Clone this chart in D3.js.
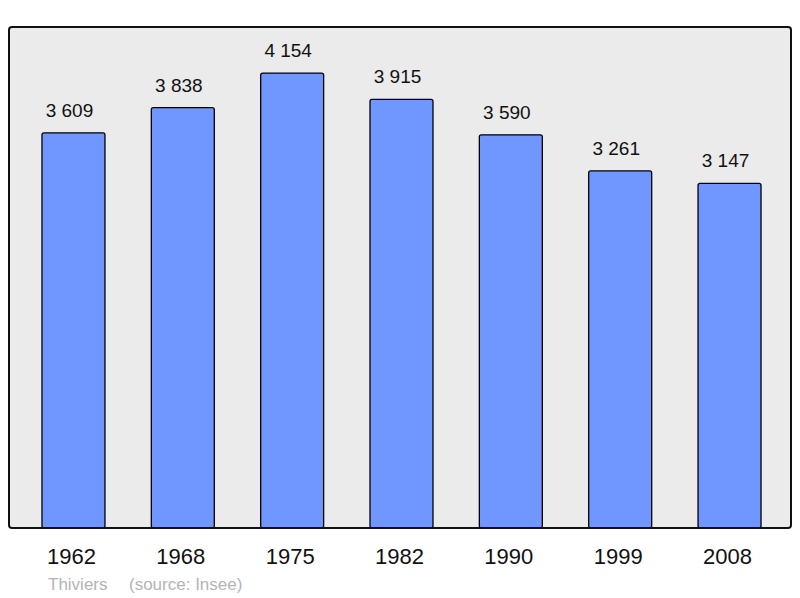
<!DOCTYPE html>
<html><head><meta charset="utf-8">
<script src="https://cdn.jsdelivr.net/npm/d3@7"></script>
<style>body{margin:0;background:#fff}svg{display:block}</style>
</head><body>
<script>
const years = ["1962","1968","1975","1982","1990","1999","2008"];
const population = [3609,3838,4154,3915,3590,3261,3147];
const valueLabels = ["3 609","3 838","4 154","3 915","3 590","3 261","3 147"];
const commune = "Thiviers";
const sourceText = "(source: Insee)";

const W = 800, H = 598;
const svg = d3.select("body").append("svg").attr("width", W).attr("height", H);
const frame = {x0: 9, y0: 27, x1: 791, y1: 528};

svg.append("rect").attr("x", frame.x0).attr("y", frame.y0)
  .attr("width", frame.x1 - frame.x0).attr("height", frame.y1 - frame.y0)
  .attr("rx", 3).attr("fill", "#ebebeb").attr("stroke", "none");

const x = d3.scaleBand().domain(years).range([18.8, 784.2]).paddingInner(0.424).paddingOuter(0.212);
const y = d3.scaleLinear().domain([0, 4575]).range([frame.y1, frame.y0]);

const data = years.map((yr, i) => ({yr, v: population[i], lab: valueLabels[i]}));

svg.selectAll("rect.bar").data(data).enter().append("rect")
  .attr("class", "bar")
  .attr("x", d => x(d.yr)).attr("y", d => y(d.v))
  .attr("width", x.bandwidth()).attr("height", d => y(0) - y(d.v))
  .attr("rx", 2)
  .attr("fill", "#7097ff").attr("stroke", "#000").attr("stroke-width", 1.3);

svg.selectAll("text.val").data(data).enter().append("text")
  .attr("x", d => x(d.yr) + x.bandwidth() / 2 - 4).attr("y", d => y(d.v) - 16)
  .attr("text-anchor", "middle").attr("font-family", "Liberation Sans, Arial, sans-serif")
  .attr("font-size", 19).attr("fill", "#111").text(d => d.lab);

// frame border on top
svg.append("rect").attr("x", frame.x0).attr("y", frame.y0)
  .attr("width", frame.x1 - frame.x0).attr("height", frame.y1 - frame.y0)
  .attr("rx", 3).attr("fill", "none").attr("stroke", "#111").attr("stroke-width", 2);

const xAxis = d3.axisBottom(x).tickSize(0).tickPadding(0);
const gx = svg.append("g").attr("transform", `translate(0,${frame.y1})`).call(xAxis);
gx.select(".domain").remove();
gx.selectAll("text").attr("dy", null).attr("y", 36).attr("x", -2)
  .attr("font-family", "Liberation Sans, Arial, sans-serif").attr("font-size", 22).attr("fill", "#111");

svg.append("text").attr("x", 48).attr("y", 590)
  .attr("font-family", "Liberation Sans, Arial, sans-serif").attr("font-size", 17).attr("fill", "#b4b4b4")
  .text(commune);
svg.append("text").attr("x", 129).attr("y", 590)
  .attr("font-family", "Liberation Sans, Arial, sans-serif").attr("font-size", 17).attr("fill", "#b4b4b4")
  .text(sourceText);
</script>
</body></html>
